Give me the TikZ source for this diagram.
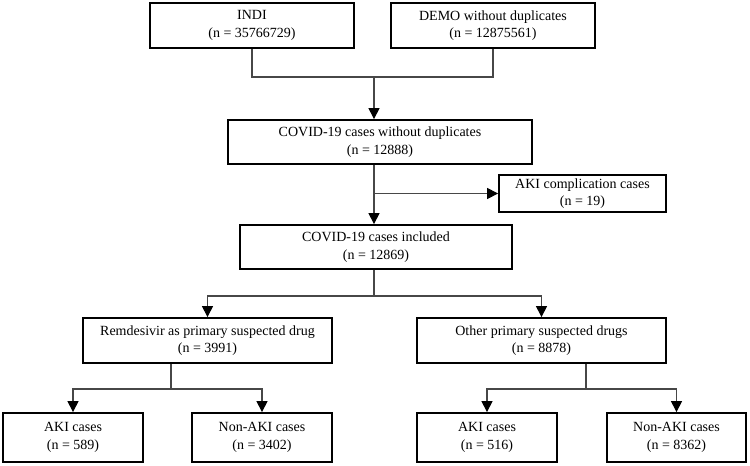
\documentclass[tikz,border=0pt]{standalone}
\usepackage{fontspec}
\setmainfont{Liberation Serif}
\usetikzlibrary{arrows.meta}
\begin{document}
\begin{tikzpicture}[x=1pt,y=-1pt,
  box/.style={draw=black,line width=1.8pt,inner sep=0pt,align=center,
    font=\fontsize{14}{17.5}\selectfont,fill=white},
  conn/.style={draw=black!72,line width=1.1pt},
  arr/.style={conn,-{Triangle[width=11pt,length=11pt,fill=black,color=black]}}]
\useasboundingbox (0,0) rectangle (750,466);
\fill[white] (0,0) rectangle (750,466);
% boxes
\node[box,minimum width=204pt,minimum height=45pt] (indi) at (252,25.5) {INDI\\(n = 35766729)};
\node[box,minimum width=204pt,minimum height=45pt] (demo) at (493,25.5) {DEMO without duplicates\\(n = 12875561)};
\node[box,minimum width=304pt,minimum height=44pt] (cov1) at (380,142) {COVID-19 cases without duplicates\\(n = 12888)};
\node[box,minimum width=167pt,minimum height=37pt] (akic) at (582.5,193.5) {AKI complication cases\\(n = 19)};
\node[box,minimum width=272pt,minimum height=44pt] (cov2) at (376,247) {COVID-19 cases included\\(n = 12869)};
\node[box,minimum width=249pt,minimum height=45pt] (rem) at (207.5,340.5) {Remdesivir as primary suspected drug\\(n = 3991)};
\node[box,minimum width=249pt,minimum height=45pt] (oth) at (541.5,340.5) {Other primary suspected drugs\\(n = 8878)};
\node[box,minimum width=140pt,minimum height=49pt] (aki1) at (73,437.5) {AKI cases\\(n = 589)};
\node[box,minimum width=140pt,minimum height=49pt] (non1) at (262,437.5) {Non-AKI cases\\(n = 3402)};
\node[box,minimum width=140pt,minimum height=49pt] (aki2) at (487,437.5) {AKI cases\\(n = 516)};
\node[box,minimum width=139pt,minimum height=49pt] (non2) at (676.5,437.5) {Non-AKI cases\\(n = 8362)};
% junctions
\coordinate (c1) at (374,77);
\coordinate (c2) at (374,296);
\coordinate (c3) at (171,389);
\coordinate (c4) at (586,389);
% connectors
\draw[conn] (indi.south) |- (c1) -| (demo.south);
\draw[arr] (c1) -- (c1 |- cov1.north);
\draw[arr] (c1 |- cov1.south) -- (c1 |- cov2.north);
\draw[arr] (c1 |- akic.west) -- (akic.west);
\draw[conn] (c1 |- cov2.south) -- (c2);
\draw[arr] (c2) -| (rem.north);
\draw[arr] (c2) -| (oth.north);
\draw[conn] (c3 |- rem.south) -- (c3);
\draw[arr] (c3) -| (aki1.north);
\draw[arr] (c3) -| (non1.north);
\draw[conn] (c4 |- oth.south) -- (c4);
\draw[arr] (c4) -| (aki2.north);
\draw[arr] (c4) -| (non2.north);
\end{tikzpicture}
\end{document}
